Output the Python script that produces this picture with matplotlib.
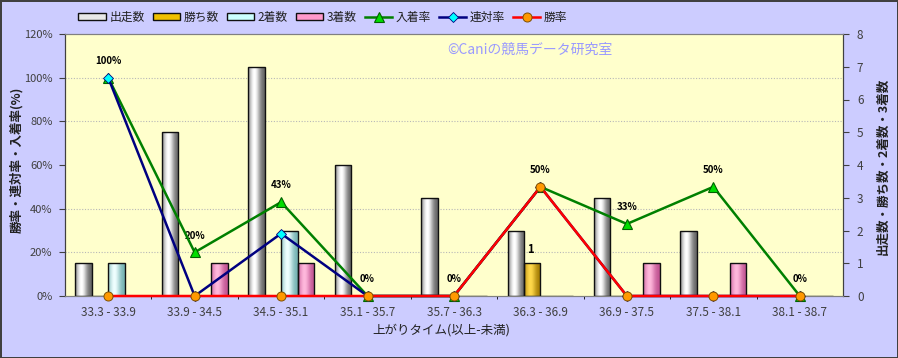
import numpy as np
import matplotlib
matplotlib.use("Agg")
import matplotlib.pyplot as plt
from matplotlib.patches import Rectangle
from matplotlib.colors import to_rgb
from matplotlib.ticker import FuncFormatter

plt.rcParams['font.family'] = ['Noto Sans CJK JP', 'DejaVu Sans']

categories = ["33.3 - 33.9", "33.9 - 34.5", "34.5 - 35.1", "35.1 - 35.7", "35.7 - 36.3",
              "36.3 - 36.9", "36.9 - 37.5", "37.5 - 38.1", "38.1 - 38.7"]
runs = [1, 5, 7, 4, 3, 2, 3, 2, 0]
wins = [0, 0, 0, 0, 0, 1, 0, 0, 0]
seconds = [1, 0, 2, 0, 0, 0, 0, 0, 0]
thirds = [0, 1, 1, 0, 0, 0, 1, 1, 0]
place_rate = [100, 20, 43, 0, 0, 50, 33, 50, 0]
quinella_rate = [100, 0, 28.6, 0, 0, 50, 0, 0, 0]
win_rate = [0, 0, 0, 0, 0, 50, 0, 0, 0]
place_labels = ["100%", "20%", "43%", "0%", "0%", "50%", "33%", "50%", "0%"]

W, H = 898, 358
fig = plt.figure(figsize=(W / 100, H / 100), dpi=100, facecolor='#CCCCFF',
                 edgecolor='#404040', linewidth=2)
L, R, T, B = 65, 843, 34, 296
ax = fig.add_axes([L / W, 1 - B / H, (R - L) / W, (B - T) / H])
ax2 = ax.twinx()
ax.set_zorder(2)
ax.patch.set_visible(False)
ax2.set_zorder(1)
ax2.patch.set_visible(True)
ax2.patch.set_facecolor('#FFFFCC')

x = np.arange(len(categories))
bw = 0.19
series = [
    (runs, '出走数', '#606060', '#FFFFFF', '#E8E8E8'),
    (wins, '勝ち数', '#A07800', '#FFD84A', '#F0C000'),
    (seconds, '2着数', '#70B0B0', '#EFFFFF', '#CCFFFF'),
    (thirds, '3着数', '#C05090', '#FFB8DC', '#FF99CC'),
]
handles = []
for i, (vals, name, dark, light, mid) in enumerate(series):
    off = (i - 1.5) * bw
    bars = ax2.bar(x + off, vals, width=bw, facecolor='none', edgecolor='#101010',
                   linewidth=1.0, zorder=3)
    d = np.array(to_rgb(dark)); l = np.array(to_rgb(light))
    t = np.linspace(0, 1, 64)
    f = np.exp(-((t - 0.38) / 0.34) ** 2)
    grad = (d[None, :] * (1 - f[:, None]) + l[None, :] * f[:, None])[None, :, :]
    for rect in bars:
        h = rect.get_height()
        if h <= 0:
            continue
        x0 = rect.get_x(); w = rect.get_width()
        im = ax2.imshow(grad, extent=[x0, x0 + w, 0, h], aspect='auto', zorder=2.5,
                        interpolation='bilinear')
        im.set_clip_path(rect)
    handles.append(Rectangle((0, 0), 1, 1, facecolor=mid, edgecolor='#101010', linewidth=1.0))

for i, v in enumerate(wins):
    if v > 0:
        ax2.annotate(str(v), (x[i] - 0.5 * bw, v), xytext=(-1, 5), textcoords='offset points',
                     ha='center', va='bottom', fontsize=8, fontweight='bold')

ax2.set_ylim(0, 8)
ax2.set_yticks(np.arange(0, 9, 1))
ax2.set_xlim(-0.5, len(categories) - 0.5)
ax2.set_yticks(np.arange(0, 8.01, 8 / 6), minor=True)
ax2.set_xticks(np.arange(0.5, len(categories) - 0.5, 1), minor=True)
ax2.grid(True, which='minor', color='#B8B8B8', linestyle=(0, (1, 1.5)), linewidth=0.8)
ax2.tick_params(axis='y', which='minor', length=0)
ax2.tick_params(axis='x', which='minor', length=0)
ax2.tick_params(axis='y', which='major', direction='out', length=4, labelsize=8.5,
                labelcolor='#404040', color='#404040', pad=6)

l1, = ax.plot(x, place_rate, color='#008000', linewidth=1.8, marker='^', markersize=7,
              markerfacecolor='#00DD00', markeredgecolor='#006000', markeredgewidth=0.8, zorder=4,
              clip_on=False)
l2, = ax.plot(x, quinella_rate, color='#000080', linewidth=1.8, marker='D', markersize=5,
              markerfacecolor='#00FFFF', markeredgecolor='#000080', markeredgewidth=0.6, zorder=5,
              clip_on=False)
l3, = ax.plot(x, win_rate, color='#FF0000', linewidth=1.8, marker='o', markersize=6.5,
              markerfacecolor='#FF9900', markeredgecolor='#805000', markeredgewidth=0.7, zorder=6,
              clip_on=False)
for i, lab in enumerate(place_labels):
    yv = max(place_rate[i], win_rate[i])
    ax.annotate(lab, (x[i], yv), xytext=(0, 12), textcoords='offset points',
                ha='center', va='center', fontsize=7, fontweight='bold', color='#000000')

ax.set_ylim(0, 120)
ax.set_yticks(np.arange(0, 121, 20))
ax.yaxis.set_major_formatter(FuncFormatter(lambda v, p: f"{int(v)}%"))
ax.set_xlim(-0.5, len(categories) - 0.5)
ax.set_xticks(x)
ax.set_xticklabels(categories)
ax.tick_params(axis='x', length=0, labelsize=8.5, labelcolor='#404040', pad=7)
ax.tick_params(axis='y', direction='out', length=4, labelsize=8, labelcolor='#404040',
               color='#404040', pad=5)
ax2.tick_params(axis='x', labelbottom=False, length=0)

for a in (ax, ax2):
    for s in a.spines.values():
        s.set_color('#808080')
        s.set_linewidth(0.8)
    a.spines['left'].set_color('#404040')
    a.spines['right'].set_color('#404040')

ax.text(0.491, 0.939, '©Caniの競馬データ研究室', transform=ax.transAxes, ha='left', va='center',
        fontsize=10, color='#9999FF', zorder=1)

fig.text(441 / W, 1 - 330 / H, '上がりタイム(以上-未満)', ha='center', va='center',
         fontsize=9, color='#202020')
fig.text(17 / W, 0.553, '勝率・連対率・入着率(%)', rotation=90, ha='center', va='center',
         fontsize=9, fontweight='bold', color='#202020')
fig.text(883 / W, 0.536, '出走数・勝ち数・2着数・3着数', rotation=90, ha='center', va='center',
         fontsize=9, fontweight='bold', color='#202020')

handles += [l1, l2, l3]
labels = ['出走数', '勝ち数', '2着数', '3着数', '入着率', '連対率', '勝率']
fig.legend(handles, labels, loc='center', bbox_to_anchor=(323 / W, 1 - 17 / H), ncol=7,
           frameon=False, fontsize=8.5, handlelength=2.3, handleheight=0.5, handletextpad=0.3,
           columnspacing=0.7, labelcolor='#202020')

fig.savefig('out.png', dpi=100, facecolor=fig.get_facecolor(), edgecolor=fig.get_edgecolor())
